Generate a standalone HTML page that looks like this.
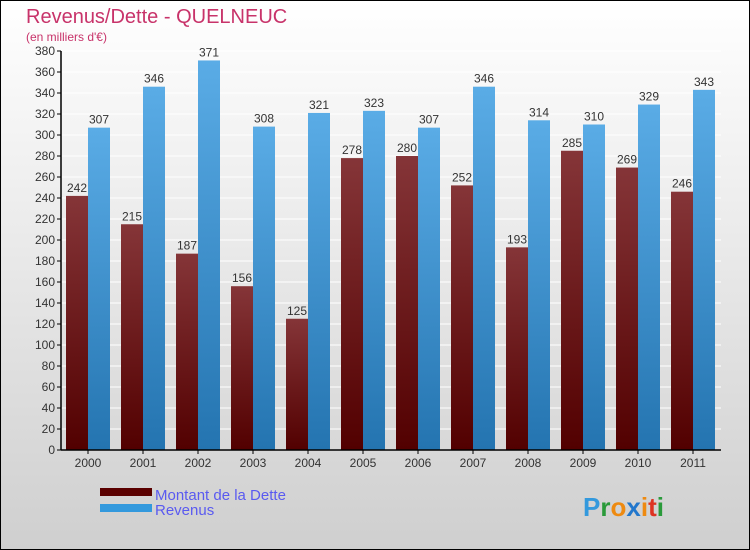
<!DOCTYPE html>
<html><head><meta charset="utf-8"><style>
body{margin:0}
#c{position:relative;width:748px;height:548px;border:1px solid #000;background:linear-gradient(#ffffff,#cfcfcf);font-family:"Liberation Sans",sans-serif;overflow:hidden}
</style></head><body>
<div id="c">
<svg id="s" width="748" height="548">
<defs>
<linearGradient id="gd" x1="0" y1="0" x2="0" y2="1"><stop offset="0" stop-color="#853538"/><stop offset="1" stop-color="#520000"/></linearGradient>
<linearGradient id="gr" x1="0" y1="0" x2="0" y2="1"><stop offset="0" stop-color="#5aace6"/><stop offset="1" stop-color="#2474b0"/></linearGradient>
</defs>
<text x="25" y="22" font-size="20" fill="#c8336a">Revenus/Dette - QUELNEUC</text>
<text x="25" y="40" font-size="12" fill="#c8336a">(en milliers d'€)</text>
<g id="grid"></g><g id="bars"></g><g id="axes"></g>
<rect x="99" y="487" width="52" height="8" fill="#5a0000"/>
<rect x="99" y="503" width="52" height="8" fill="#3399dd"/>
<text x="154" y="499" font-size="15" fill="#5a5af0">Montant de la Dette</text>
<text x="154" y="514" font-size="15" fill="#5a5af0">Revenus</text>
<text x="582" y="515" font-size="26" font-weight="bold"><tspan fill="#3399dd">P</tspan><tspan fill="#2a9a3a">r</tspan><tspan fill="#ee8a10">o</tspan><tspan fill="#2277cc">x</tspan><tspan fill="#ee8a10">i</tspan><tspan fill="#dd3322">t</tspan><tspan fill="#2a9a3a">i</tspan></text>
</svg></div>
<script>
const years=["2000","2001","2002","2003","2004","2005","2006","2007","2008","2009","2010","2011"];
const dette=[242,215,187,156,125,278,280,252,193,285,269,246];
const revenus=[307,346,371,308,321,323,307,346,314,310,329,343];
const yTicks=[0,20,40,60,80,100,120,140,160,180,200,220,240,260,280,300,320,340,360,380];
const NS="http://www.w3.org/2000/svg";
const x0=60,band=55,y0=449,yTop=50,yMax=380;
const y=v=>y0-(v/yMax)*(y0-yTop);
function mk(t,a,p){const e=document.createElementNS(NS,t);for(const k in a)e.setAttribute(k,a[k]);p.appendChild(e);return e;}
const G=document.getElementById('grid'),B=document.getElementById('bars'),A=document.getElementById('axes');
yTicks.forEach(v=>{
 const l=mk('line',{x1:x0,x2:x0+band*years.length,y1:y(v),y2:y(v),stroke:'#fff','stroke-width':1},G);
 
 
 const t=mk('line',{x1:x0-4,x2:x0,y1:y(v),y2:y(v),stroke:'#000'},A);
 
 
 const tx=mk('text',{x:x0-6,y:y(v)+4,'font-size':12,fill:'#333','text-anchor':'end'},A);
 tx.textContent=v;
 
 
});
years.forEach((yr,i)=>{
 const bx=x0+band*i+5;
 [[dette[i],'url(#gd)',bx,'bar-dette'],[revenus[i],'url(#gr)',bx+22,'bar-revenus']].forEach(([v,f,xx,n])=>{
  const r=mk('rect',{x:xx,y:y(v),width:22,height:y0-y(v),fill:f},B);
  
  
  const t=mk('text',{x:xx+11,y:y(v)-4,'font-size':12,fill:'#333','text-anchor':'middle'},B);
  t.textContent=v;
  
  
 });
 const cx=x0+band*i+27;
 const tk=mk('line',{x1:cx,x2:cx,y1:y0,y2:y0+4,stroke:'#000'},A);
 
 
 const t=mk('text',{x:cx,y:y0+17,'font-size':12,fill:'#333','text-anchor':'middle'},A);
 t.textContent=yr;
 
 
});
const ya=mk('line',{x1:x0,x2:x0,y1:yTop,y2:y0,stroke:'#000','stroke-width':1.5},A);


const xa=mk('line',{x1:x0,x2:x0+band*years.length,y1:y0,y2:y0,stroke:'#000','stroke-width':1.5},A);


</script>
</body></html>
